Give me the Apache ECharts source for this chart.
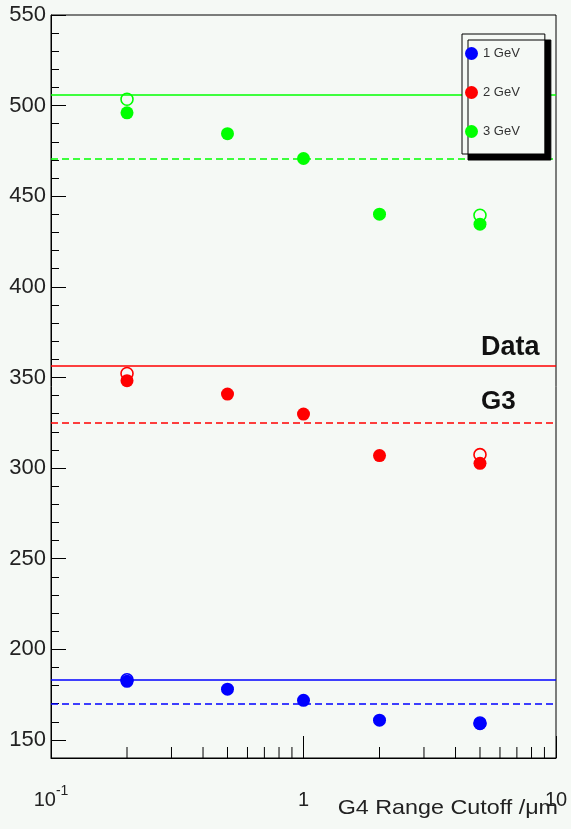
<!DOCTYPE html>
<html>
<head>
<meta charset="utf-8">
<script src="https://cdn.jsdelivr.net/npm/echarts@6/dist/echarts.min.js"></script>
<style>
  html, body { margin: 0; padding: 0; background: #f5f9f5; }
  #chart { width: 571px; height: 829px; }
</style>
</head>
<body>
<div id="chart"></div>
<script>
// ---- data ----
const cutoffs = [0.2, 0.5, 1, 2, 5];
const gev1 = [182.3, 178.0, 171.8, 160.9, 158.9];
const gev2 = [348.2, 340.8, 329.8, 306.9, 302.6];
const gev3 = [496.0, 484.5, 470.8, 440.1, 434.6];

const openCutoffs = [0.2, 5];
const open1 = [183.2, 159.3];
const open2 = [352.2, 307.4];
const open3 = [503.5, 439.5];

const dataRef = [183.4, 356.3, 506.2];   // solid lines ("Data")
const g3Ref = [169.8, 325.0, 470.8];     // dashed lines ("G3")

const seriesNames = ['1 GeV', '2 GeV', '3 GeV'];
const colors = ['#0000ff', '#ff0000', '#00ff00'];

const yMin = 140, yMax = 550;
const yMajorTicks = [150, 200, 250, 300, 350, 400, 450, 500, 550];
const yMinorTicks = [140,150,160,170,180,190,200,210,220,230,240,250,260,270,280,290,300,310,320,330,340,350,360,370,380,390,400,410,420,430,440,450,460,470,480,490,500,510,520,530,540,550];
const xMinorTicks = [0.2, 0.3, 0.4, 0.5, 0.6, 0.7, 0.8, 0.9, 2, 3, 4, 5, 6, 7, 8, 9];

const xTitle = 'G4 Range Cutoff /μm';
// ---------------

const BG = '#f5f9f5';
const FONT = '"Liberation Sans", Arial, Helvetica, sans-serif';

const filled = [gev1, gev2, gev3];
const opens = [open1, open2, open3];

const series = [];
// open circles first (drawn beneath filled)
for (let i = 0; i < 3; i++) {
  series.push({
    name: 'open ' + seriesNames[i],
    type: 'scatter',
    symbol: 'circle',
    symbolSize: 12,
    z: 3,
    silent: true,
    itemStyle: { color: BG, borderColor: colors[i], borderWidth: 1.6, opacity: 1 },
    data: openCutoffs.map((c, k) => [c, opens[i][k]])
  });
}
for (let i = 0; i < 3; i++) {
  series.push({
    name: seriesNames[i],
    type: 'scatter',
    symbol: 'circle',
    symbolSize: 13,
    z: 4,
    silent: true,
    itemStyle: { color: colors[i], opacity: 1 },
    data: cutoffs.map((c, k) => [c, filled[i][k]]),
    markLine: {
      silent: true,
      symbol: ['none', 'none'],
      label: { show: false },
      animation: false,
      data: [
        { yAxis: dataRef[i], lineStyle: { color: colors[i], width: 1.5, type: 'solid', opacity: 1 } },
        { yAxis: g3Ref[i], lineStyle: { color: colors[i], width: 1.5, type: [7, 4], opacity: 1 } }
      ]
    }
  });
}
// x minor ticks (log decade subdivisions)
series.push({
  name: 'xminor',
  type: 'custom',
  silent: true,
  z: 2,
  data: xMinorTicks.map(v => [v, yMin]),
  renderItem: function (params, api) {
    const p = api.coord([api.value(0), yMin]);
    return {
      type: 'line',
      shape: { x1: p[0], y1: p[1], x2: p[0], y2: p[1] - 11 },
      style: { stroke: '#000', lineWidth: 1 }
    };
  }
});

const chart = echarts.init(document.getElementById('chart'), null, { renderer: 'canvas' });
chart.setOption({
  animation: false,
  backgroundColor: BG,
  textStyle: { fontFamily: FONT },
  grid: {
    left: 51, right: 15, top: 15, bottom: 71,
    containLabel: false,
    outerBoundsMode: 'none',
    show: true, borderColor: '#000', borderWidth: 1, backgroundColor: BG
  },
  legend: {
    data: seriesNames,
    orient: 'vertical',
    left: 462, top: 34,
    z: 50,
    padding: [13, 25, 16, 3],
    itemGap: 26,
    itemWidth: 13, itemHeight: 13,
    icon: 'circle',
    backgroundColor: BG,
    borderColor: '#000', borderWidth: 1,
    shadowColor: '#000', shadowBlur: 0, shadowOffsetX: 6, shadowOffsetY: 6,
    selectedMode: false,
    textStyle: { fontSize: 13, color: '#333', fontFamily: FONT }
  },
  xAxis: {
    type: 'log', logBase: 10, min: 0.1, max: 10,
    axisLine: { lineStyle: { color: '#000', width: 1 } },
    axisTick: { inside: true, length: 22, lineStyle: { color: '#000' } },
    splitLine: { show: false },
    minorTick: { show: false },
    axisLabel: {
      margin: 26,
      color: '#222',
      formatter: function (v) {
        const e = Math.round(Math.log10(v));
        if (e === 0) return '{b|1}';
        if (e === 1) return '{b|10}';
        return '{b|10}{s|' + e + '}';
      },
      rich: {
        b: { fontSize: 20, lineHeight: 26, verticalAlign: 'bottom', fontFamily: FONT, color: '#222' },
        s: { fontSize: 14, lineHeight: 14, verticalAlign: 'top', fontFamily: FONT, color: '#222' }
      }
    }
  },
  yAxis: [
    {
      type: 'value', min: yMin, max: yMax,
      axisLine: { show: true, lineStyle: { color: '#000', width: 1 } },
      axisTick: { inside: true, length: 15, customValues: yMajorTicks, lineStyle: { color: '#000' } },
      axisLabel: { customValues: yMajorTicks, fontSize: 22, color: '#222', margin: 5, fontFamily: FONT },
      splitLine: { show: false }
    },
    {
      type: 'value', min: yMin, max: yMax, position: 'left',
      axisLine: { show: false },
      axisTick: { show: true, inside: true, length: 8, customValues: yMinorTicks, lineStyle: { color: '#000' } },
      axisLabel: { show: false },
      splitLine: { show: false }
    }
  ],
  graphic: [
    { type: 'text', x: 481, y: 348, silent: true,
      style: { text: 'Data', font: 'bold 27px ' + FONT, fill: '#111', align: 'left', verticalAlign: 'middle' } },
    { type: 'text', x: 481, y: 402, silent: true,
      style: { text: 'G3', font: 'bold 26px ' + FONT, fill: '#111', align: 'left', verticalAlign: 'middle' } },
    { type: 'text', x: 558, y: 808, scaleX: 1.11, silent: true,
      style: { text: xTitle, font: '21px ' + FONT, fill: '#222', align: 'right', verticalAlign: 'middle' } }
  ],
  series: series
});
</script>
</body>
</html>
